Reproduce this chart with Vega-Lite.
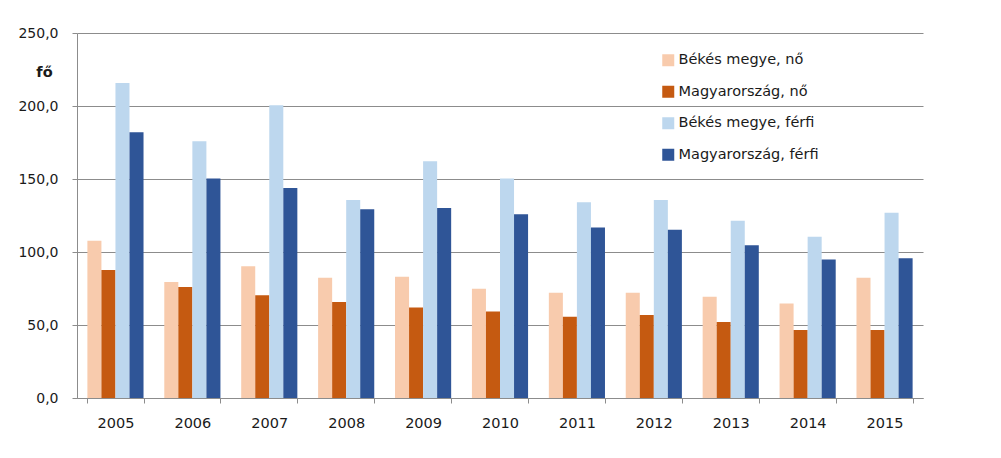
{
  "$schema": "https://vega.github.io/schema/vega-lite/v6.json",
  "autosize": "none",
  "width": 846,
  "height": 365,
  "padding": {"left": 77, "top": 33, "right": 78, "bottom": 60},
  "background": "white",
  "data": {
    "values": [
      {"ev": "2005", "sorozat": "Békés megye, nő", "ertek": 107.7},
      {"ev": "2005", "sorozat": "Magyarország, nő", "ertek": 87.6},
      {"ev": "2005", "sorozat": "Békés megye, férfi", "ertek": 215.8},
      {"ev": "2005", "sorozat": "Magyarország, férfi", "ertek": 182.0},
      {"ev": "2006", "sorozat": "Békés megye, nő", "ertek": 79.4},
      {"ev": "2006", "sorozat": "Magyarország, nő", "ertek": 76.0},
      {"ev": "2006", "sorozat": "Békés megye, férfi", "ertek": 175.9},
      {"ev": "2006", "sorozat": "Magyarország, férfi", "ertek": 150.3},
      {"ev": "2007", "sorozat": "Békés megye, nő", "ertek": 90.3},
      {"ev": "2007", "sorozat": "Magyarország, nő", "ertek": 70.3},
      {"ev": "2007", "sorozat": "Békés megye, férfi", "ertek": 200.5},
      {"ev": "2007", "sorozat": "Magyarország, férfi", "ertek": 143.9},
      {"ev": "2008", "sorozat": "Békés megye, nő", "ertek": 82.3},
      {"ev": "2008", "sorozat": "Magyarország, nő", "ertek": 65.7},
      {"ev": "2008", "sorozat": "Békés megye, férfi", "ertek": 135.7},
      {"ev": "2008", "sorozat": "Magyarország, férfi", "ertek": 129.3},
      {"ev": "2009", "sorozat": "Békés megye, nő", "ertek": 83.0},
      {"ev": "2009", "sorozat": "Magyarország, nő", "ertek": 62.0},
      {"ev": "2009", "sorozat": "Békés megye, férfi", "ertek": 162.2},
      {"ev": "2009", "sorozat": "Magyarország, férfi", "ertek": 130.2},
      {"ev": "2010", "sorozat": "Békés megye, nő", "ertek": 74.8},
      {"ev": "2010", "sorozat": "Magyarország, nő", "ertek": 59.3},
      {"ev": "2010", "sorozat": "Békés megye, férfi", "ertek": 150.3},
      {"ev": "2010", "sorozat": "Magyarország, férfi", "ertek": 125.9},
      {"ev": "2011", "sorozat": "Békés megye, nő", "ertek": 72.1},
      {"ev": "2011", "sorozat": "Magyarország, nő", "ertek": 55.7},
      {"ev": "2011", "sorozat": "Békés megye, férfi", "ertek": 134.1},
      {"ev": "2011", "sorozat": "Magyarország, férfi", "ertek": 116.8},
      {"ev": "2012", "sorozat": "Békés megye, nő", "ertek": 72.1},
      {"ev": "2012", "sorozat": "Magyarország, nő", "ertek": 56.8},
      {"ev": "2012", "sorozat": "Békés megye, férfi", "ertek": 135.7},
      {"ev": "2012", "sorozat": "Magyarország, férfi", "ertek": 115.2},
      {"ev": "2013", "sorozat": "Békés megye, nő", "ertek": 69.3},
      {"ev": "2013", "sorozat": "Magyarország, nő", "ertek": 52.0},
      {"ev": "2013", "sorozat": "Békés megye, férfi", "ertek": 121.4},
      {"ev": "2013", "sorozat": "Magyarország, férfi", "ertek": 104.7},
      {"ev": "2014", "sorozat": "Békés megye, nő", "ertek": 64.8},
      {"ev": "2014", "sorozat": "Magyarország, nő", "ertek": 46.5},
      {"ev": "2014", "sorozat": "Békés megye, férfi", "ertek": 110.4},
      {"ev": "2014", "sorozat": "Magyarország, férfi", "ertek": 94.9},
      {"ev": "2015", "sorozat": "Békés megye, nő", "ertek": 82.3},
      {"ev": "2015", "sorozat": "Magyarország, nő", "ertek": 46.5},
      {"ev": "2015", "sorozat": "Békés megye, férfi", "ertek": 126.8},
      {"ev": "2015", "sorozat": "Magyarország, férfi", "ertek": 95.8}
    ]
  },
  "mark": {"type": "bar"},
  "encoding": {
    "x": {
      "field": "ev",
      "type": "nominal",
      "scale": {"paddingInner": 0.27, "paddingOuter": 0.135},
      "axis": {
        "title": null,
        "labelAngle": 0,
        "labelFont": "DejaVu Sans",
        "labelFontSize": 14.5,
        "labelColor": "#1a1a1a",
        "labelPadding": 13,
        "tickBand": "extent",
        "ticks": true,
        "tickSize": 5,
        "tickColor": "#8c8c8c",
        "domainColor": "#8c8c8c",
        "grid": false
      }
    },
    "xOffset": {
      "field": "sorozat",
      "type": "nominal",
      "sort": ["Békés megye, nő", "Magyarország, nő", "Békés megye, férfi", "Magyarország, férfi"],
      "scale": {"paddingInner": 0}
    },
    "y": {
      "field": "ertek",
      "type": "quantitative",
      "scale": {"domain": [0, 250], "nice": false},
      "axis": {
        "title": "fő",
        "titleAngle": 0,
        "titleX": -33,
        "titleY": 39,
        "titleAlign": "center",
        "titleBaseline": "middle",
        "titleFont": "DejaVu Sans",
        "titleFontSize": 14.5,
        "titleFontWeight": "bold",
        "titleColor": "#1a1a1a",
        "values": [0, 50, 100, 150, 200, 250],
        "labelExpr": "replace(format(datum.value, '.1f'), '.', ',')",
        "labelFont": "DejaVu Sans",
        "labelFontSize": 14,
        "labelColor": "#1a1a1a",
        "labelPadding": 14,
        "tickSize": 5,
        "tickColor": "#8c8c8c",
        "domainColor": "#8c8c8c",
        "grid": true,
        "gridColor": "#8c8c8c",
        "gridWidth": 1
      }
    },
    "color": {
      "field": "sorozat",
      "type": "nominal",
      "scale": {
        "domain": ["Békés megye, nő", "Magyarország, nő", "Békés megye, férfi", "Magyarország, férfi"],
        "range": ["#F8CBAD", "#C55A11", "#BDD7EE", "#2F5597"]
      },
      "legend": {
        "title": null,
        "orient": "none",
        "legendX": 584,
        "legendY": 20,
        "symbolType": "square",
        "symbolSize": 144,
        "symbolStrokeWidth": 0,
        "labelFont": "DejaVu Sans",
        "labelFontSize": 14.5,
        "labelColor": "#1a1a1a",
        "labelOffset": 3,
        "rowPadding": 16.5,
        "labelLimit": 300
      }
    }
  },
  "config": {
    "view": {"stroke": null}
  }
}
